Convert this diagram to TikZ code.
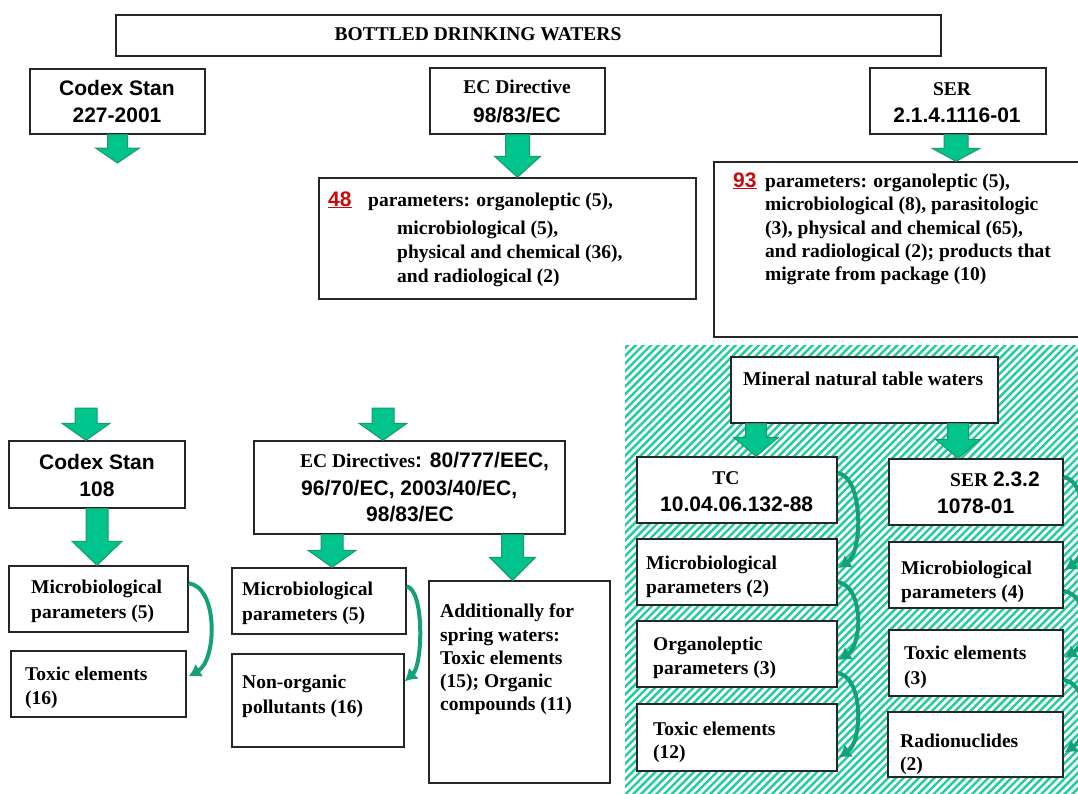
\documentclass[tikz,border=0pt]{standalone}
\usepackage{fontspec}
\setmainfont{Liberation Serif}
\newfontfamily\sansf{Liberation Sans}
\usetikzlibrary{calc,arrows.meta}
\definecolor{agreen}{RGB}{0,196,140}
\definecolor{aedge}{RGB}{30,150,110}
\definecolor{cgreen}{RGB}{20,160,120}
\definecolor{hgreen}{RGB}{35,205,155}
\definecolor{nred}{RGB}{200,10,10}
\newcommand\bx[5]{\node[box, minimum width={#4-#2}, minimum height={#5-#3}] (#1) at ({(#2+#4)/2},{(#3+#5)/2}) {};}
\newcommand\blockarrow[5]{%
  \draw[barrow] let \p1=#1, \p2=#2 in
  (\x1-#3pt,\y1) -- (\x1-#3pt,\y2+#5pt) -- (\x1-#4pt,\y2+#5pt) -- (\x1,\y2)
  -- (\x1+#4pt,\y2+#5pt) -- (\x1+#3pt,\y2+#5pt) -- (\x1+#3pt,\y1) -- cycle;}
\newcommand\carr[4]{\draw[carrow] (#1) .. controls ($(#1)+(#3,4)$) and ($(#2)+(#4,-16)$) .. (#2);}
\begin{document}
\begin{tikzpicture}[x=1pt,y=-1pt,
  box/.style={draw=black!85, line width=1.4pt, fill=white, inner sep=0pt},
  st/.style={font=\fontsize{19.5}{23.5}\selectfont\bfseries, inner sep=0pt},
  ss/.style={font=\sansf\fontsize{21}{27}\selectfont\bfseries, inner sep=0pt},
  sn/.style={font=\sansf\fontsize{21}{27}\selectfont\bfseries, text=nred, inner sep=0pt},
  barrow/.style={fill=agreen, draw=aedge, line width=1pt, line join=miter},
  carrow/.style={draw=cgreen, line width=4pt, -{Latex[length=12pt,width=15pt]}},
]
\useasboundingbox (0,0) rectangle (1078,793);
\clip (0,0) rectangle (1078,793);
\fill[white] (0,0) rectangle (1078,793);
% hatched area
\begin{scope}
  \clip (625,345) rectangle (1078,793);
  \foreach \i in {0,...,122} \draw[hgreen, line width=2.4pt] ({150+\i*7.7},800) -- ++(470,-470);
\end{scope}
% boxes
\bx{title}{116}{15}{941}{56}
\bx{cs227}{30}{69}{205}{134}
\bx{ecd}{430}{68}{605}{134}
\bx{ser1}{870}{68}{1046}{134}
\bx{p48}{319}{178}{696}{299}
\bx{p93}{714}{162}{1100}{337}
\bx{cs108}{9}{441}{185}{508}
\bx{m5a}{9}{566}{188}{632}
\bx{tx16}{11}{651}{186}{717}
\bx{ecds}{254}{441}{565}{534}
\bx{m5b}{232}{568}{406}{634}
\bx{nonorg}{232}{654}{404}{747}
\bx{addl}{429}{581}{610}{783}
\bx{mnt}{731}{357}{998}{423}
\bx{tc}{637}{457}{837}{523}
\bx{m2}{637}{539}{837}{605}
\bx{org}{637}{621}{837}{687}
\bx{tx12}{637}{704}{837}{771}
\bx{ser2}{889}{459}{1063}{525}
\bx{m4}{889}{542}{1063}{608}
\bx{tx3}{889}{630}{1063}{696}
\bx{rad}{888}{712}{1063}{777}
% texts
\node[st,anchor=base] (ttl) at (478,40) {BOTTLED DRINKING WATERS};
\node[ss,anchor=base] (cs227a) at (117,95) {Codex Stan};
\node[ss,anchor=base] (cs227b) at (117,122) {227-2001};
\node[st,anchor=base] (ecda) at (517,93) {EC Directive};
\node[ss,anchor=base] (ecdb) at (517,122) {98/83/EC};
\node[st,anchor=base] (ser1a) at (952,95) {SER};
\node[ss,anchor=base] (ser1b) at (957,122) {2.1.4.1116-01};
\node[sn,anchor=base west] (n48) at (328,206) {\underline{48}};
\node[st,anchor=base west] (p48a) at (368,206) {parameters: organoleptic (5),};
\node[st,anchor=base west] (p48b) at (397,234) {microbiological (5),};
\node[st,anchor=base west] (p48c) at (397,258) {physical and chemical (36),};
\node[st,anchor=base west] (p48d) at (397,282) {and radiological (2)};
\node[sn,anchor=base west] (n93) at (733,187) {\underline{93}};
\node[st,anchor=base west] (p93a) at (765,187) {parameters: organoleptic (5),};
\node[st,anchor=base west] (p93b) at (765,210) {microbiological (8), parasitologic};
\node[st,anchor=base west] (p93c) at (765,234) {(3), physical and chemical (65),};
\node[st,anchor=base west] (p93d) at (765,257) {and radiological (2); products that};
\node[st,anchor=base west] (p93e) at (765,280) {migrate from package (10)};
\node[ss,anchor=base] (cs108a) at (97,469) {Codex Stan};
\node[ss,anchor=base] (cs108b) at (97,496) {108};
\node[st,anchor=base west] (m5aa) at (31,593) {Microbiological};
\node[st,anchor=base west] (m5ab) at (31,618) {parameters (5)};
\node[st,anchor=base west] (tx16a) at (25,680) {Toxic elements};
\node[st,anchor=base west] (tx16b) at (25,704) {(16)};
\node[st,anchor=base west] (ecdsa) at (300,467) {EC Directives\sansf\fontsize{21}{27}\selectfont: 80/777/EEC,};
\node[ss,anchor=base west] (ecdsb) at (301,495) {96/70/EC, 2003/40/EC,};
\node[ss,anchor=base west] (ecdsc) at (366,521) {98/83/EC};
\node[st,anchor=base west] (m5ba) at (242,595) {Microbiological};
\node[st,anchor=base west] (m5bb) at (242,620) {parameters (5)};
\node[st,anchor=base west] (noa) at (242,688) {Non-organic};
\node[st,anchor=base west] (nob) at (242,713) {pollutants (16)};
\node[st,anchor=base west] (ada) at (440,617) {Additionally for};
\node[st,anchor=base west] (adb) at (440,641) {spring waters:};
\node[st,anchor=base west] (adc) at (440,664) {Toxic elements};
\node[st,anchor=base west] (add) at (440,687) {(15); Organic};
\node[st,anchor=base west] (ade) at (440,710) {compounds (11)};
\node[st,anchor=base west] (mnta) at (743,385) {Mineral natural table waters};
\node[st,anchor=base] (tca) at (726,484) {TC};
\node[ss,anchor=base west] (tcb) at (660,511) {10.04.06.132-88};
\node[st,anchor=base west] (m2a) at (646,569) {Microbiological};
\node[st,anchor=base west] (m2b) at (646,593) {parameters (2)};
\node[st,anchor=base west] (orga) at (653,650) {Organoleptic};
\node[st,anchor=base west] (orgb) at (653,674) {parameters (3)};
\node[st,anchor=base west] (tx12a) at (653,735) {Toxic elements};
\node[st,anchor=base west] (tx12b) at (653,758) {(12)};
\node[st,anchor=base west] (ser2a) at (950,486) {SER \sansf\fontsize{21}{27}\selectfont 2.3.2};
\node[ss,anchor=base west] (ser2b) at (937,513) {1078-01};
\node[st,anchor=base west] (m4a) at (901,574) {Microbiological};
\node[st,anchor=base west] (m4b) at (901,598) {parameters (4)};
\node[st,anchor=base west] (tx3a) at (904,659) {Toxic elements};
\node[st,anchor=base west] (tx3b) at (904,684) {(3)};
\node[st,anchor=base west] (rada) at (900,747) {Radionuclides};
\node[st,anchor=base west] (radb) at (900,770) {(2)};
% block arrows
\coordinate (e227) at (118,163);
\coordinate (f108) at (86,408);
\coordinate (fecds) at (383,408);
\blockarrow{(cs227.south)}{(e227)}{10}{22}{15}
\blockarrow{(ecd.south)}{(p48.north)}{12}{23}{21}
\blockarrow{([xshift=-2]ser1.south)}{(p93.north)}{12}{24}{13}
\blockarrow{(f108)}{(cs108.north)}{11}{24}{17}
\blockarrow{(fecds)}{(ecds.north)}{11}{24}{17}
\blockarrow{(cs108.south)}{(m5a.north)}{11}{25}{24}
\blockarrow{([xshift=-77.5]ecds.south)}{(m5b.north)}{11}{24}{17}
\blockarrow{([xshift=103]ecds.south)}{(addl.north)}{11}{23}{23}
\blockarrow{([xshift=-108.5]mnt.south)}{(tc.north)}{10.5}{22.5}{19}
\blockarrow{([xshift=93.5]mnt.south)}{(ser2.north)}{10.5}{22.5}{19}
% curved arrows
\coordinate (a1s) at ($(m5a.north east)+(0,18)$);
\coordinate (a1e) at ($(tx16.north east)+(2,26)$);
\coordinate (a2s) at ($(m5b.north east)+(0,19)$);
\coordinate (a2e) at ($(nonorg.north east)+(0,28)$);
\coordinate (a3s) at ($(tc.east)+(0,-17)$);
\coordinate (a3e) at ($(m2.east)+(1,-4)$);
\coordinate (a4s) at ($(m2.east)+(0,10)$);
\coordinate (a4e) at ($(org.east)+(1,6)$);
\coordinate (a5s) at ($(org.east)+(0,19)$);
\coordinate (a5e) at ($(tx12.east)+(1,20)$);
\coordinate (a6s) at ($(ser2.east)+(0,-15)$);
\coordinate (a6e) at ($(m4.east)+(1,-5)$);
\coordinate (a7s) at ($(m4.east)+(0,16)$);
\coordinate (a7e) at ($(tx3.east)+(1,-5)$);
\coordinate (a8s) at ($(tx3.east)+(0,17)$);
\coordinate (a8e) at ($(rad.east)+(1,8)$);
\carr{a1s}{a1e}{30}{28}
\carr{a2s}{a2e}{18}{18}
\carr{a3s}{a3e}{26}{24}
\carr{a4s}{a4e}{26}{24}
\carr{a5s}{a5e}{26}{24}
\carr{a6s}{a6e}{26}{24}
\carr{a7s}{a7e}{26}{24}
\carr{a8s}{a8e}{26}{24}
\end{tikzpicture}
\end{document}
